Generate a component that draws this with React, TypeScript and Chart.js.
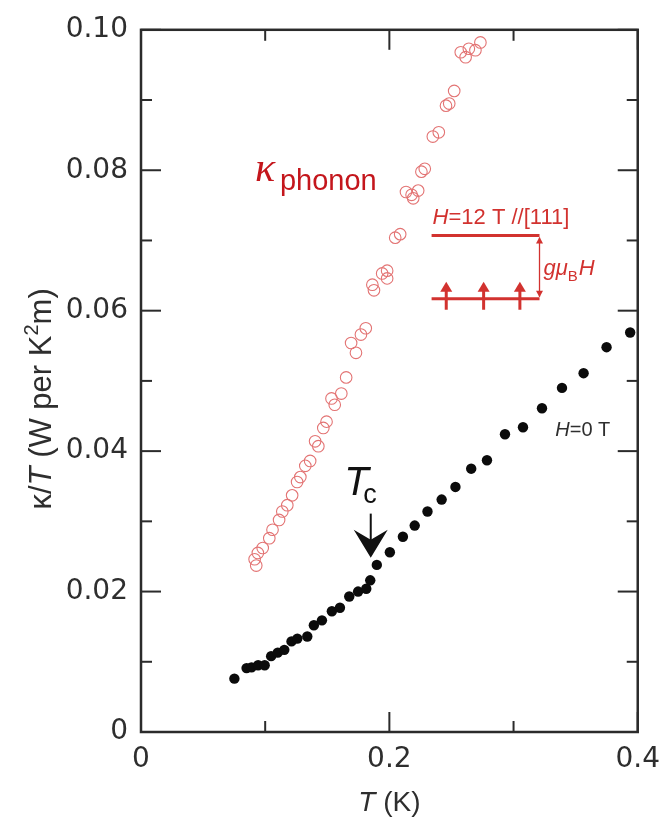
import React, { useEffect, useRef } from "react";
import { Chart, registerables } from "chart.js";

Chart.register(...registerables);

// ---- Data ----
// Open red circles: kappa/T at H = 12 T (phonon contribution)
const phononT = [0.0928, 0.0915, 0.0941, 0.098, 0.1033, 0.1059, 0.1112, 0.1138, 0.1178, 0.1217, 0.1257, 0.1283, 0.1323, 0.1362, 0.1428, 0.1402, 0.1468, 0.1494, 0.156, 0.1534, 0.1613, 0.1652, 0.1731, 0.1692, 0.1771, 0.181, 0.1876, 0.1863, 0.1982, 0.1942, 0.1982, 0.2047, 0.2087, 0.2192, 0.2134, 0.2179, 0.2232, 0.2258, 0.2285, 0.235, 0.2398, 0.2456, 0.2482, 0.2522, 0.2614, 0.2575, 0.264, 0.2693, 0.2733];
const phononK = [0.0237, 0.0246, 0.0255, 0.0262, 0.0276, 0.0288, 0.0302, 0.0314, 0.0323, 0.0337, 0.0356, 0.0363, 0.0379, 0.0386, 0.0407, 0.0414, 0.0433, 0.0442, 0.0466, 0.0475, 0.0482, 0.0505, 0.054, 0.0554, 0.0566, 0.0575, 0.0629, 0.0637, 0.0646, 0.0653, 0.0657, 0.0704, 0.0709, 0.076, 0.0769, 0.0765, 0.0771, 0.0798, 0.0802, 0.0848, 0.0854, 0.0892, 0.0895, 0.0913, 0.0961, 0.0968, 0.0973, 0.0971, 0.0982];

// Filled black dots: kappa/T at H = 0 T
const zeroT = [0.0752, 0.085, 0.089, 0.0943, 0.0996, 0.1048, 0.1101, 0.1154, 0.1212, 0.1259, 0.1339, 0.1392, 0.1457, 0.1537, 0.1602, 0.1677, 0.1748, 0.1814, 0.1846, 0.1899, 0.2004, 0.2109, 0.2204, 0.2307, 0.2421, 0.2532, 0.2659, 0.2786, 0.2931, 0.3076, 0.3229, 0.339, 0.3564, 0.3749, 0.3939];
const zeroK = [0.0076, 0.0091, 0.0092, 0.0095, 0.0095, 0.0108, 0.0113, 0.0117, 0.0129, 0.0133, 0.0136, 0.0152, 0.0159, 0.0172, 0.0177, 0.0193, 0.02, 0.0204, 0.0216, 0.0238, 0.0256, 0.0278, 0.0294, 0.0314, 0.0331, 0.0349, 0.0375, 0.0387, 0.0424, 0.0434, 0.0461, 0.049, 0.0511, 0.0548, 0.0569];

// Axis ranges and ticks
const xRange = [0, 0.4];
const yRange = [0, 0.1];
const xMajorTicks = [0, 0.2, 0.4];
const xMinorTicks = [0.1, 0.3];
const yMajorTicks = [0, 0.02, 0.04, 0.06, 0.08, 0.1];
const yMinorTicks = [0.01, 0.03, 0.05, 0.07, 0.09];

// Annotation anchors (data coordinates)
const kappaLabelAt = { x: 0.0917, y: 0.0784 };
const fieldLabelAt = { x: 0.2348, y: 0.0724 };
const levelLines = { x0: 0.234, x1: 0.3209, yUpper: 0.0707, yLower: 0.0617 };
const spinArrowsT = [0.2458, 0.2759, 0.3051];
const tcLabelAt = { x: 0.1636, y: 0.0337 };
const tcArrow = { x: 0.185, yTail: 0.0311, yTip: 0.0248 };
const zeroFieldLabelAt = { x: 0.3336, y: 0.0421 };

const FONT = '"Liberation Sans", Arial, Helvetica, sans-serif';
const SERIF = '"Liberation Serif", "DejaVu Serif", serif';
const TICK_FONT = '"DejaVu Sans", "Liberation Sans", sans-serif';
const AXIS_COLOR = "#2b2b2b";
const TEXT_COLOR = "#2e2e2e";
const RED_TEXT = "#c4161c";
const RED_DIAGRAM = "#d2322f";

type Seg = { text: string; font: string; dy?: number; dx?: number };

function drawSegs(ctx: CanvasRenderingContext2D, segs: Seg[], x: number, y: number, align: "left" | "center") {
  let total = 0;
  for (const s of segs) {
    ctx.font = s.font;
    total += ctx.measureText(s.text).width + (s.dx || 0);
  }
  let cx = align === "center" ? x - total / 2 : x;
  for (const s of segs) {
    ctx.font = s.font;
    cx += s.dx || 0;
    ctx.fillText(s.text, cx, y + (s.dy || 0));
    cx += ctx.measureText(s.text).width;
  }
}

const framePlugin = {
  id: "frameAndNotes",
  afterDraw(chart: any) {
    const { ctx, chartArea: a, scales } = chart;
    const xs = scales.x;
    const ys = scales.y;
    const X = (v: number) => xs.getPixelForValue(v);
    const Y = (v: number) => ys.getPixelForValue(v);
    ctx.save();

    // frame
    ctx.strokeStyle = AXIS_COLOR;
    ctx.lineWidth = 2.5;
    ctx.strokeRect(a.left, a.top, a.right - a.left, a.bottom - a.top);

    // inward ticks
    const seg = (x1: number, y1: number, x2: number, y2: number) => {
      ctx.beginPath();
      ctx.moveTo(x1, y1);
      ctx.lineTo(x2, y2);
      ctx.stroke();
    };
    ctx.lineWidth = 2;
    const MAJ = 20;
    const MIN = 11;
    for (const v of xMajorTicks) {
      const px = X(v);
      seg(px, a.bottom, px, a.bottom - MAJ);
      seg(px, a.top, px, a.top + MAJ);
    }
    for (const v of xMinorTicks) {
      const px = X(v);
      seg(px, a.bottom, px, a.bottom - MIN);
      seg(px, a.top, px, a.top + MIN);
    }
    for (const v of yMajorTicks) {
      const py = Y(v);
      seg(a.left, py, a.left + MAJ, py);
      seg(a.right, py, a.right - MAJ, py);
    }
    for (const v of yMinorTicks) {
      const py = Y(v);
      seg(a.left, py, a.left + MIN, py);
      seg(a.right, py, a.right - MIN, py);
    }

    // axis titles
    ctx.fillStyle = TEXT_COLOR;
    ctx.textBaseline = "alphabetic";
    drawSegs(
      ctx,
      [
        { text: "T", font: `italic 28px ${FONT}` },
        { text: " (K)", font: `28px ${FONT}` },
      ],
      (a.left + a.right) / 2,
      811,
      "center"
    );
    ctx.save();
    ctx.translate(51, (a.top + a.bottom) / 2 + 18);
    ctx.rotate(-Math.PI / 2);
    drawSegs(
      ctx,
      [
        { text: "κ/", font: `31px ${FONT}` },
        { text: "T", font: `italic 31px ${FONT}` },
        { text: " (W per K", font: `31px ${FONT}` },
        { text: "2", font: `20px ${FONT}`, dy: -13 },
        { text: "m)", font: `31px ${FONT}` },
      ],
      0,
      0,
      "center"
    );
    ctx.restore();

    // kappa_phonon label
    ctx.fillStyle = RED_TEXT;
    const kx = X(kappaLabelAt.x);
    const ky = Y(kappaLabelAt.y);
    ctx.font = `italic 42px ${SERIF}`;
    ctx.fillText("κ", kx, ky);
    ctx.font = `29px ${FONT}`;
    ctx.fillText("phonon", kx + 25, ky + 9);

    // field diagram
    ctx.fillStyle = RED_DIAGRAM;
    drawSegs(
      ctx,
      [
        { text: "H", font: `italic 22px ${FONT}` },
        { text: "=12 T //[111]", font: `22px ${FONT}` },
      ],
      X(fieldLabelAt.x),
      Y(fieldLabelAt.y),
      "left"
    );
    ctx.strokeStyle = RED_DIAGRAM;
    ctx.lineWidth = 3;
    const lx0 = X(levelLines.x0);
    const lx1 = X(levelLines.x1);
    const yu = Y(levelLines.yUpper);
    const yl = Y(levelLines.yLower);
    seg(lx0, yu, lx1, yu);
    seg(lx0, yl, lx1, yl);
    // double arrow
    ctx.lineWidth = 1.3;
    seg(lx1, yu + 2, lx1, yl - 2);
    ctx.beginPath();
    ctx.moveTo(lx1, yu + 1.5);
    ctx.lineTo(lx1 - 3.5, yu + 8);
    ctx.lineTo(lx1 + 3.5, yu + 8);
    ctx.closePath();
    ctx.fill();
    ctx.beginPath();
    ctx.moveTo(lx1, yl - 1.5);
    ctx.lineTo(lx1 - 3.5, yl - 8);
    ctx.lineTo(lx1 + 3.5, yl - 8);
    ctx.closePath();
    ctx.fill();
    // spin arrows
    ctx.lineWidth = 3;
    for (const t of spinArrowsT) {
      const px = X(t);
      seg(px, yl + 11, px, yl - 9);
      ctx.beginPath();
      ctx.moveTo(px, yl - 17);
      ctx.lineTo(px - 6, yl - 7);
      ctx.lineTo(px + 6, yl - 7);
      ctx.closePath();
      ctx.fill();
    }
    // g mu_B H
    drawSegs(
      ctx,
      [
        { text: "gμ", font: `italic 22px ${FONT}` },
        { text: "B", font: `15px ${FONT}`, dy: 6 },
        { text: "H", font: `italic 22px ${FONT}`, dx: 1 },
      ],
      lx1 + 4,
      (yu + yl) / 2 + 8,
      "left"
    );

    // T_c label and arrow
    ctx.fillStyle = "#111";
    ctx.strokeStyle = "#111";
    const tx = X(tcLabelAt.x);
    const ty = Y(tcLabelAt.y);
    ctx.font = `italic 40px ${FONT}`;
    ctx.fillText("T", tx, ty);
    ctx.font = `27px ${FONT}`;
    ctx.fillText("c", tx + 19, ty + 8);
    const ax = X(tcArrow.x);
    const aTail = Y(tcArrow.yTail);
    const aTip = Y(tcArrow.yTip);
    ctx.lineWidth = 2;
    seg(ax, aTail, ax, aTip - 14);
    ctx.beginPath();
    ctx.moveTo(ax, aTip);
    ctx.lineTo(ax - 17, aTip - 28);
    ctx.lineTo(ax, aTip - 18);
    ctx.lineTo(ax + 17, aTip - 28);
    ctx.closePath();
    ctx.fill();

    // H = 0 T label
    ctx.fillStyle = TEXT_COLOR;
    drawSegs(
      ctx,
      [
        { text: "H", font: `italic 20px ${FONT}` },
        { text: "=0 T", font: `20px ${FONT}` },
      ],
      X(zeroFieldLabelAt.x),
      Y(zeroFieldLabelAt.y),
      "left"
    );

    ctx.restore();
  },
};

export default function App() {
  const ref = useRef<HTMLCanvasElement | null>(null);

  useEffect(() => {
    const canvas = ref.current;
    if (!canvas) return;
    const chart = new Chart(canvas, {
      type: "scatter",
      data: {
        datasets: [
          {
            label: "κphonon (H=12 T //[111])",
            data: phononT.map((t, i) => ({ x: t, y: phononK[i] })),
            pointRadius: 5.8,
            pointBackgroundColor: "rgba(255,255,255,0)",
            pointBorderColor: "#e37474",
            pointBorderWidth: 1.1,
            pointHoverRadius: 5.8,
          },
          {
            label: "H=0 T",
            data: zeroT.map((t, i) => ({ x: t, y: zeroK[i] })),
            pointRadius: 5.2,
            pointBackgroundColor: "#0b0b0b",
            pointBorderColor: "#0b0b0b",
            pointBorderWidth: 0,
            pointHoverRadius: 5.2,
          },
        ],
      },
      options: {
        animation: false,
        responsive: false,
        maintainAspectRatio: false,
        layout: { padding: { top: 19, right: 24, left: 0, bottom: 0 } },
        plugins: {
          legend: { display: false },
          tooltip: { enabled: false },
        },
        events: [],
        scales: {
          x: {
            type: "linear",
            min: xRange[0],
            max: xRange[1],
            afterFit: (s: any) => {
              s.height = 85;
            },
            grid: { display: false, drawTicks: false },
            border: { display: false },
            ticks: {
              stepSize: 0.2,
              padding: 11,
              color: TEXT_COLOR,
              font: { family: TICK_FONT, size: 28 },
              callback: (v: any) => (Number(v) === 0 ? "0" : Number(v).toFixed(1)),
            },
          },
          y: {
            type: "linear",
            min: yRange[0],
            max: yRange[1],
            afterFit: (s: any) => {
              s.width = 141;
            },
            grid: { display: false, drawTicks: false },
            border: { display: false },
            ticks: {
              stepSize: 0.02,
              padding: 13,
              color: TEXT_COLOR,
              font: { family: TICK_FONT, size: 28 },
              callback: (v: any) => (Number(v) === 0 ? "0" : Number(v).toFixed(2)),
            },
          },
        },
      },
      plugins: [framePlugin],
    });
    return () => chart.destroy();
  }, []);

  return (
    <div style={{ position: "fixed", left: 0, top: 0, width: 671, height: 817, background: "#fff" }}>
      <canvas ref={ref} width={671} height={817} style={{ display: "block", width: 671, height: 817 }} />
    </div>
  );
}
